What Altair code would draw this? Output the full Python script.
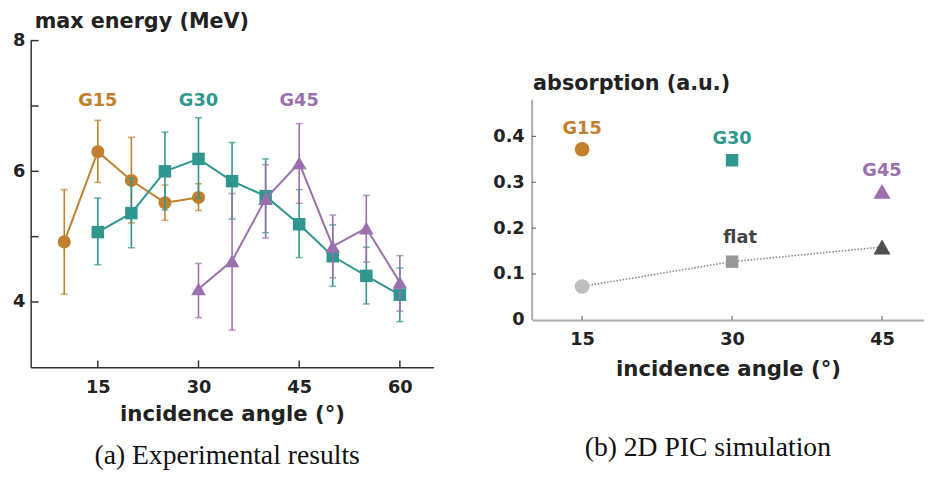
import altair as alt
import pandas as pd

# ---------------- panel (a): experimental results ----------------
g15_angle = [10, 15, 20, 25, 30]
g15_energy = [4.92, 6.30, 5.86, 5.52, 5.60]
g15_lo = [4.12, 5.83, 5.21, 5.25, 5.40]
g15_hi = [5.72, 6.78, 6.52, 5.79, 5.81]

g30_angle = [15, 20, 25, 30, 35, 40, 45, 50, 55, 60]
g30_energy = [5.07, 5.36, 6.00, 6.19, 5.85, 5.62, 5.19, 4.70, 4.40, 4.11]
g30_lo = [4.57, 4.83, 5.41, 5.59, 5.27, 5.06, 4.68, 4.24, 3.97, 3.70]
g30_hi = [5.59, 5.89, 6.60, 6.82, 6.44, 6.19, 5.72, 5.18, 4.84, 4.52]

g45_angle = [30, 35, 40, 45, 50, 55, 60]
g45_energy = [4.20, 4.63, 5.58, 6.13, 4.85, 5.13, 4.30]
g45_lo = [3.76, 3.57, 4.98, 5.51, 4.37, 4.61, 3.86]
g45_hi = [4.59, 5.66, 6.10, 6.73, 5.33, 5.63, 4.71]

series_names = ["G15", "G30", "G45"]
series_colors = ["#C0802E", "#2F978D", "#9A70AF"]
series_shapes = ["circle", "square", "triangle-up"]

label_a_angle = [15, 30, 45]
label_a_energy = [7.08, 7.08, 7.08]

a_xticks = [15, 30, 45, 60]
a_yticks = [4, 5, 6, 7, 8]
a_ylabels = [4, 6, 8]

# ---------------- panel (b): 2D PIC simulation ----------------
sim_angle = [15, 30, 45]
sim_grating = [0.372, 0.348, 0.280]
sim_flat = [0.073, 0.127, 0.159]
flat_colors = ["#BEBEBE", "#999999", "#4F4F4F"]

label_b_angle = [15, 30, 45]
label_b_abs = [0.415, 0.395, 0.325]
flat_label_angle = [30.8]
flat_label_abs = [0.178]

b_xticks = [15, 30, 45]
b_yticks = [0, 0.1, 0.2, 0.3, 0.4]
b_axis_span = [0.0, 0.48]

FONT = "DejaVu Sans"
SERIF = "Liberation Serif"
AXC = "#333333"
TXT = "#222222"

# ---------- shared encodings (a) ----------
xa_scale = alt.Scale(domain=[5, 65], nice=False, zero=False)
ya_scale = alt.Scale(domain=[3, 8], nice=False, zero=False)
xa_axis = alt.Axis(values=a_xticks, ticks=False, grid=False, domainColor=AXC, domainWidth=1.5,
                   labelFont=FONT, labelFontWeight="bold", labelFontSize=18, labelColor=TXT,
                   labelPadding=12, labelFlush=False,
                   title="incidence angle (°)", titleFont=FONT, titleFontWeight="bold",
                   titleFontSize=21.5, titleColor=TXT, titlePadding=7)
ya_axis = alt.Axis(values=a_ylabels, ticks=False, grid=False, domainColor=AXC, domainWidth=1.5,
                   labelFont=FONT, labelFontWeight="bold", labelFontSize=18, labelColor=TXT,
                   labelPadding=6, labelFlush=False, title="")


def XA(field="angle"):
    return alt.X(f"{field}:Q", scale=xa_scale, axis=xa_axis)


def YA(field="energy"):
    return alt.Y(f"{field}:Q", scale=ya_scale, axis=ya_axis)


def series_layers(name, angle, energy, lo, hi, color, shape, size):
    df = pd.DataFrame({"angle": angle, "energy": energy, "lo": lo, "hi": hi, "s": name})
    base = alt.Chart(df)
    err = base.mark_rule(color=color, strokeWidth=1.6).encode(x=XA(), y=YA("lo"), y2="hi:Q")
    cap_lo = base.mark_tick(color=color, orient="horizontal", size=7, thickness=1.6).encode(x=XA(), y=YA("lo"))
    cap_hi = base.mark_tick(color=color, orient="horizontal", size=7, thickness=1.6).encode(x=XA(), y=YA("hi"))
    line = base.mark_line(color=color, strokeWidth=2).encode(x=XA(), y=YA(), order="angle:Q")
    pts = base.mark_point(shape=shape, filled=True, size=size, color=color, opacity=1).encode(x=XA(), y=YA())
    return [err, cap_lo, cap_hi, line, pts]


layers_a = []
ytick_df = pd.DataFrame({"energy": a_yticks})
xtick_df = pd.DataFrame({"angle": a_xticks})
layers_a.append(alt.Chart(ytick_df).mark_rule(color=AXC, strokeWidth=1.5).encode(
    x=alt.value(0), x2=alt.value(8), y=YA()))
layers_a.append(alt.Chart(xtick_df).mark_rule(color=AXC, strokeWidth=1.5).encode(
    x=XA(), y=alt.value(331), y2=alt.value(324)))

layers_a += series_layers("G15", g15_angle, g15_energy, g15_lo, g15_hi, series_colors[0], "circle", 175)
layers_a += series_layers("G30", g30_angle, g30_energy, g30_lo, g30_hi, series_colors[1], "square", 160)
layers_a += series_layers("G45", g45_angle, g45_energy, g45_lo, g45_hi, series_colors[2], "triangle-up", 220)

lab_a = pd.DataFrame({"angle": label_a_angle, "energy": label_a_energy, "s": series_names})
layers_a.append(alt.Chart(lab_a).mark_text(font=FONT, fontWeight="bold", fontSize=18).encode(
    x=XA(), y=YA(), text="s:N",
    color=alt.Color("s:N", scale=alt.Scale(domain=series_names, range=series_colors), legend=None)))

ytitle_a = pd.DataFrame({"t": ["max energy (MeV)"]})
layers_a.append(alt.Chart(ytitle_a).mark_text(font=FONT, fontWeight="bold", fontSize=21, color=TXT,
                                              align="left", baseline="alphabetic").encode(
    x=alt.value(4), y=alt.value(-13), text="t:N"))

cap_a = pd.DataFrame({"c": ["(a) Experimental results"]})
layers_a.append(alt.Chart(cap_a).mark_text(font=SERIF, fontSize=28, color="#111").encode(
    x=alt.value(199), y=alt.value(421), text="c:N"))

left = alt.layer(*layers_a).properties(width=408, height=331)

# ---------- panel (b) ----------
PLOT_B_H = 283
xb_scale = alt.Scale(domain=[10, 49.2], nice=False, zero=False)
yb_scale = alt.Scale(domain=[0, 0.1 * 283 / 46.5], nice=False, zero=False)
BAX = "#ABABAB"
xb_axis = alt.Axis(values=b_xticks, ticks=False, grid=False, domainColor=BAX, domainWidth=2,
                   labelFont=FONT, labelFontWeight="bold", labelFontSize=18, labelColor=TXT,
                   labelPadding=11, labelFlush=False,
                   title="incidence angle (°)", titleFont=FONT, titleFontWeight="bold",
                   titleFontSize=21.5, titleColor=TXT, titlePadding=10)
yb_axis = alt.Axis(values=b_yticks, ticks=False, grid=False, domain=False,
                   format=".1~f",
                   labelFont=FONT, labelFontWeight="bold", labelFontSize=18, labelColor=TXT,
                   labelPadding=8, labelFlush=False, title="")


def XB(field="angle"):
    return alt.X(f"{field}:Q", scale=xb_scale, axis=xb_axis)


def YB(field="abs"):
    return alt.Y(f"{field}:Q", scale=yb_scale, axis=yb_axis)


layers_b = []
span_df = pd.DataFrame({"lo": [b_axis_span[0]], "hi": [b_axis_span[1]]})
layers_b.append(alt.Chart(span_df).mark_rule(color=BAX, strokeWidth=2).encode(
    x=alt.value(0), y=YB("lo"), y2="hi:Q"))
layers_b.append(alt.Chart(pd.DataFrame({"abs": b_yticks[1:]})).mark_rule(color="#555", strokeWidth=1).encode(
    x=alt.value(0), x2=alt.value(4), y=YB()))
layers_b.append(alt.Chart(pd.DataFrame({"angle": b_xticks})).mark_rule(color="#555", strokeWidth=1).encode(
    x=XB(), y=alt.value(PLOT_B_H), y2=alt.value(PLOT_B_H - 4)))

flat_df = pd.DataFrame({"angle": sim_angle, "abs": sim_flat})
grat_df = pd.DataFrame({"angle": sim_angle, "abs": sim_grating, "s": series_names})

layers_b.append(alt.Chart(flat_df).mark_line(color="#8A8A8A", strokeWidth=1.6, strokeDash=[1.6, 1.6]).encode(
    x=XB(), y=YB()))
b_sizes = [220, 160, 300]
for i in range(3):
    layers_b.append(alt.Chart(flat_df.iloc[[i]]).mark_point(
        shape=series_shapes[i], filled=True, opacity=1, color=flat_colors[i],
        size=b_sizes[i]).encode(x=XB(), y=YB()))
    layers_b.append(alt.Chart(grat_df.iloc[[i]]).mark_point(
        shape=series_shapes[i], filled=True, opacity=1, color=series_colors[i],
        size=b_sizes[i]).encode(x=XB(), y=YB()))

lab_b = pd.DataFrame({"angle": label_b_angle, "abs": label_b_abs, "s": series_names})
layers_b.append(alt.Chart(lab_b).mark_text(font=FONT, fontWeight="bold", fontSize=18).encode(
    x=XB(), y=YB(), text="s:N",
    color=alt.Color("s:N", scale=alt.Scale(domain=series_names, range=series_colors), legend=None)))
flat_lab = pd.DataFrame({"angle": flat_label_angle, "abs": flat_label_abs, "t": ["flat"]})
layers_b.append(alt.Chart(flat_lab).mark_text(font=FONT, fontWeight="bold", fontSize=18, color="#444").encode(
    x=XB(), y=YB(), text="t:N"))

ytitle_b = pd.DataFrame({"t": ["absorption (a.u.)"]})
layers_b.append(alt.Chart(ytitle_b).mark_text(font=FONT, fontWeight="bold", fontSize=21, color=TXT,
                                              align="left", baseline="alphabetic").encode(
    x=alt.value(1), y=alt.value(50), text="t:N"))

cap_b = pd.DataFrame({"c": ["(b) 2D PIC simulation"]})
layers_b.append(alt.Chart(cap_b).mark_text(font=SERIF, fontSize=28, color="#111").encode(
    x=alt.value(178), y=alt.value(413), text="c:N"))

right = alt.layer(*layers_b).properties(width=397, height=PLOT_B_H)

chart = alt.hconcat(left, right, spacing=60).properties(
    padding={"left": 4, "top": 0, "right": 0, "bottom": 0}
).configure_view(stroke=None).configure_concat(spacing=60)

chart.save("out.html", embed_options={"renderer": "svg", "actions": False})
